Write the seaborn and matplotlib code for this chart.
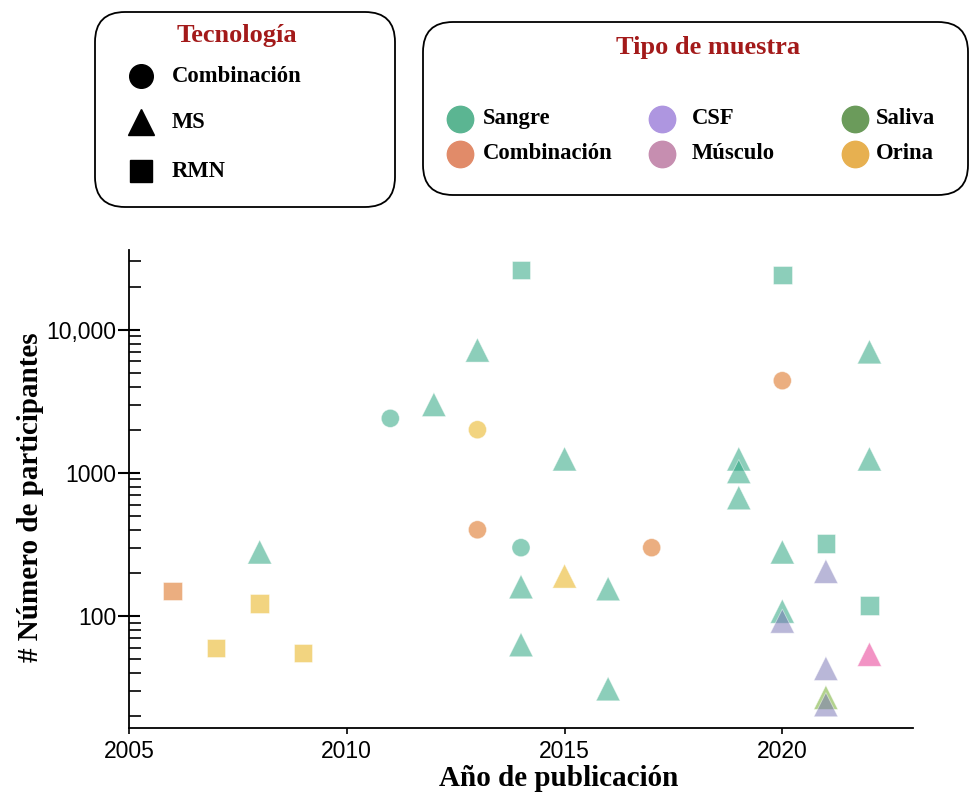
import matplotlib
matplotlib.use("Agg")
import matplotlib.pyplot as plt
import seaborn as sns
import pandas as pd
from matplotlib.patches import FancyBboxPatch

# ---------------- data ----------------
years = [2006, 2007, 2008, 2008, 2009, 2011, 2012, 2013, 2013, 2013,
         2014, 2014, 2014, 2014, 2015, 2015, 2016, 2016, 2017, 2019,
         2019, 2019, 2020, 2020, 2020, 2020, 2020, 2021, 2021, 2021,
         2021, 2021, 2022, 2022, 2022, 2022]
participants = [150, 60, 280, 122, 55, 2400, 3000, 7200, 2000, 400,
                26000, 300, 160, 63, 1250, 190, 155, 31, 300, 1250,
                1020, 670, 24000, 4400, 280, 108, 92, 320, 205, 43,
                27, 24, 7000, 1250, 118, 54]
technology = ["RMN", "RMN", "MS", "RMN", "RMN", "Combinación", "MS", "MS", "Combinación", "Combinación",
              "RMN", "Combinación", "MS", "MS", "MS", "MS", "MS", "MS", "Combinación", "MS",
              "MS", "MS", "RMN", "Combinación", "MS", "MS", "MS", "RMN", "MS", "MS",
              "MS", "MS", "MS", "MS", "RMN", "MS"]
sample_type = ["Combinación", "Orina", "Sangre", "Orina", "Orina", "Sangre", "Sangre", "Sangre", "Orina", "Combinación",
               "Sangre", "Sangre", "Sangre", "Sangre", "Sangre", "Orina", "Sangre", "Sangre", "Combinación", "Sangre",
               "Sangre", "Sangre", "Sangre", "Combinación", "Sangre", "Sangre", "CSF", "Sangre", "CSF", "CSF",
               "Saliva", "CSF", "Sangre", "Sangre", "Sangre", "Músculo"]

tech_order = ["Combinación", "MS", "RMN"]
sample_order = ["Sangre", "Combinación", "CSF", "Músculo", "Saliva", "Orina"]
legend_colors = ["#5bb592", "#e18b69", "#ae96e0", "#c68eb0", "#6b9b5b", "#e7b050"]
y_ticks = [100, 1000, 10000]
y_tick_labels = ["100", "1000", "10,000"]
x_ticks = [2005, 2010, 2015, 2020]

# ---------------- style ----------------
sns.set_theme(style="ticks")
plt.rcParams["font.family"] = ["Liberation Sans", "DejaVu Sans"]
plt.rcParams["text.color"] = "black"
plt.rcParams["axes.labelcolor"] = "black"
plt.rcParams["xtick.color"] = "black"
plt.rcParams["ytick.color"] = "black"
plt.rcParams["axes.edgecolor"] = "black"
SERIF = ["Liberation Serif", "DejaVu Serif"]
TITLE_RED = "#a31a1a"

W, H = 969, 797
fig = plt.figure(figsize=(W / 100, H / 100), dpi=100)
fig.patch.set_facecolor("white")

ax_l, ax_r, ax_t, ax_b = 129, 913, 250, 728
ax = fig.add_axes([ax_l / W, (H - ax_b) / H, (ax_r - ax_l) / W, (ax_b - ax_t) / H])

df = pd.DataFrame({"Año": years, "Participantes": participants,
                   "Tecnología": technology, "Muestra": sample_type})

markers = {"Combinación": "o", "MS": "^", "RMN": "s"}
sizes = {"Combinación": 170, "MS": 300, "RMN": 175}
sns.scatterplot(data=df, x="Año", y="Participantes",
                hue="Muestra", hue_order=sample_order, palette="Dark2",
                style="Tecnología", style_order=tech_order, markers=markers,
                size="Tecnología", size_order=tech_order, sizes=sizes,
                alpha=0.5, edgecolor="white", linewidth=0.6,
                legend=False, ax=ax)

ax.set_yscale("log")
ax.set_ylim(16.5, 36000)
ax.set_xlim(2005, 2023)
ax.set_yticks(y_ticks)
ax.set_yticklabels(y_tick_labels)
ax.set_xticks(x_ticks)
ax.set_xticklabels([str(x) for x in x_ticks])
ax.set_facecolor("white")
for s in ["top", "right"]:
    ax.spines[s].set_visible(False)
for s in ["left", "bottom"]:
    ax.spines[s].set_linewidth(1.3)
    ax.spines[s].set_color("black")

ax.tick_params(axis="y", which="major", direction="inout", length=16, width=1.5,
               labelsize=16.5, pad=1, colors="black")
ax.tick_params(axis="y", which="minor", direction="in", length=8.5, width=1.2, colors="black")
ax.tick_params(axis="x", which="major", direction="out", length=4, width=1.2,
               labelsize=16.5, pad=5, colors="black")
ax.tick_params(axis="x", which="minor", bottom=False)

ax.set_xlabel("Año de publicación", fontsize=21, fontweight="bold", family=SERIF, color="black")
ax.set_ylabel("# Número de participantes", fontsize=21, fontweight="bold", family=SERIF, color="black")
ax.xaxis.set_label_coords((559 - ax_l) / (ax_r - ax_l), (ax_b - 779) / (ax_b - ax_t))
ax.xaxis.label.set_va("center")
ax.yaxis.set_label_coords((30 - ax_l) / (ax_r - ax_l), (ax_b - 497) / (ax_b - ax_t))
ax.yaxis.label.set_va("center")

# ---------------- legends (pixel overlay) ----------------
ov = fig.add_axes([0, 0, 1, 1])
ov.set_xlim(0, W)
ov.set_ylim(H, 0)
ov.axis("off")
ov.patch.set_visible(False)

box1 = FancyBboxPatch((95, 12), 300, 195, boxstyle="round,pad=0,rounding_size=30",
                      fc="white", ec="black", lw=1.3)
ov.add_patch(box1)
ov.text(237, 35, "Tecnología", ha="center", va="center", fontsize=19,
        fontweight="bold", family=SERIF, color=TITLE_RED)
tech_y = [76, 122, 171]
tech_ms = {"Combinación": 17, "MS": 19, "RMN": 16.5}
for t, yy in zip(tech_order, tech_y):
    ov.plot([141], [yy], marker=markers[t], ms=tech_ms[t], color="black", ls="none")
    ov.text(172, yy, t, ha="left", va="center", fontsize=16.3, fontweight="bold",
            family=SERIF, color="black")

box2 = FancyBboxPatch((423, 22), 545, 173, boxstyle="round,pad=0,rounding_size=30",
                      fc="white", ec="black", lw=1.3)
ov.add_patch(box2)
ov.text(708, 47, "Tipo de muestra", ha="center", va="center", fontsize=19,
        fontweight="bold", family=SERIF, color=TITLE_RED)
col_marker_x = [460, 662, 855]
col_text_x = [483, 692, 876]
row_y = [119, 154]
for i, (name, col) in enumerate(zip(sample_order, legend_colors)):
    c, r = divmod(i, 2)
    ov.plot([col_marker_x[c]], [row_y[r]], marker="o", ms=19, color=col, ls="none")
    ov.text(col_text_x[c], row_y[r] - 1, name, ha="left", va="center", fontsize=16.3,
            fontweight="bold", family=SERIF, color="black")

fig.savefig("out.png", dpi=100, facecolor="white")
